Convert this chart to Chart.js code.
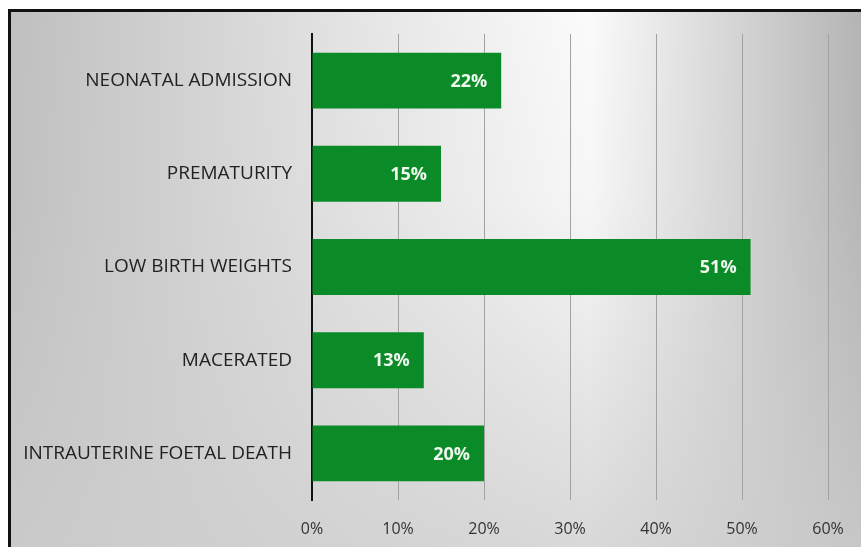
<!DOCTYPE html>
<html>
<head>
<meta charset="utf-8">
<script src="https://cdn.jsdelivr.net/npm/chart.js@4"></script>
<style>
  html, body { margin: 0; padding: 0; background: #fff; }
  #wrap { width: 861px; height: 547px; position: relative; }
</style>
</head>
<body>
<div id="wrap"><canvas id="chart" width="861" height="547"></canvas></div>
<script>
const categories = ['NEONATAL ADMISSION', 'PREMATURITY', 'LOW BIRTH WEIGHTS', 'MACERATED', 'INTRAUTERINE FOETAL DEATH']
const percents = [22, 15, 51, 13, 20]
const axis_max = 60
const axis_step = 10

// grey frame with a light spot, like the original slide background
const backdrop = {
    id: 'backdrop',
    beforeDraw: (chart) => {
        const ctx = chart.ctx
        const w = chart.width, h = chart.height
        ctx.save()
        ctx.fillStyle = '#fff'
        ctx.fillRect(0, 0, w, h)
        const g = ctx.createLinearGradient(10, 0, w, 0)
        g.addColorStop(0, '#bfbfbf')
        g.addColorStop(0.4, '#e4e4e4')
        g.addColorStop(0.68, '#fbfbfb')
        g.addColorStop(1, '#b4b4b4')
        ctx.fillStyle = g
        ctx.fillRect(10, 11, w - 10, h - 11)
        const v = ctx.createLinearGradient(0, 11, 0, h)
        v.addColorStop(0, 'rgba(205,205,205,0)')
        v.addColorStop(0.35, 'rgba(205,205,205,0.1)')
        v.addColorStop(1, 'rgba(205,205,205,0.75)')
        ctx.fillStyle = v
        ctx.fillRect(10, 11, w - 10, h - 11)
        ctx.fillStyle = '#111'
        ctx.fillRect(8, 9, w - 8, 3)
        ctx.fillRect(8, 9, 3, h - 9)
        ctx.restore()
    }
}

const bar_labels = {
    id: 'bar_labels',
    afterDatasetsDraw: (chart) => {
        const ctx = chart.ctx
        const meta = chart.getDatasetMeta(0)
        ctx.save()
        ctx.font = 'bold 18px "Open Sans"'
        ctx.fillStyle = '#eef8ee'
        ctx.textAlign = 'right'
        ctx.textBaseline = 'middle'
        meta.data.forEach((bar, i) => {
            ctx.fillText(percents[i] + '%', bar.x - 14, bar.y + 1)
        })
        ctx.restore()
    }
}

const config = {
    type: 'bar',
    data: {
        labels: categories,
        datasets: [{
            data: percents,
            backgroundColor: '#0b8a28',
            categoryPercentage: 0.6,
            barPercentage: 1
        }]
    },
    options: {
        indexAxis: 'y',
        responsive: false,
        animation: false,
        layout: {
            padding: { top: 34, right: 33, left: 0, bottom: 0 }
        },
        scales: {
            x: {
                min: 0,
                max: axis_max,
                ticks: {
                    stepSize: axis_step,
                    padding: 20,
                    color: '#333',
                    font: { family: '"Open Sans"', size: 16 },
                    callback: (v) => v + '%'
                },
                grid: { color: '#a2a2a2', lineWidth: 1, drawTicks: false },
                border: { display: false },
                afterFit: (scale) => {
                    scale.height = 47
                    scale.paddingRight = 18
                }
            },
            y: {
                ticks: {
                    padding: 20,
                    color: '#222',
                    font: { family: '"Open Sans"', size: 19 }
                },
                grid: { display: false, drawTicks: false },
                border: { display: true, color: '#111', width: 2 },
                afterFit: (scale) => { scale.width = 312 }
            }
        },
        plugins: {
            legend: { display: false },
            tooltip: { enabled: false }
        }
    },
    plugins: [backdrop, bar_labels]
}

new Chart(document.getElementById('chart'), config)
</script>
</body>
</html>
